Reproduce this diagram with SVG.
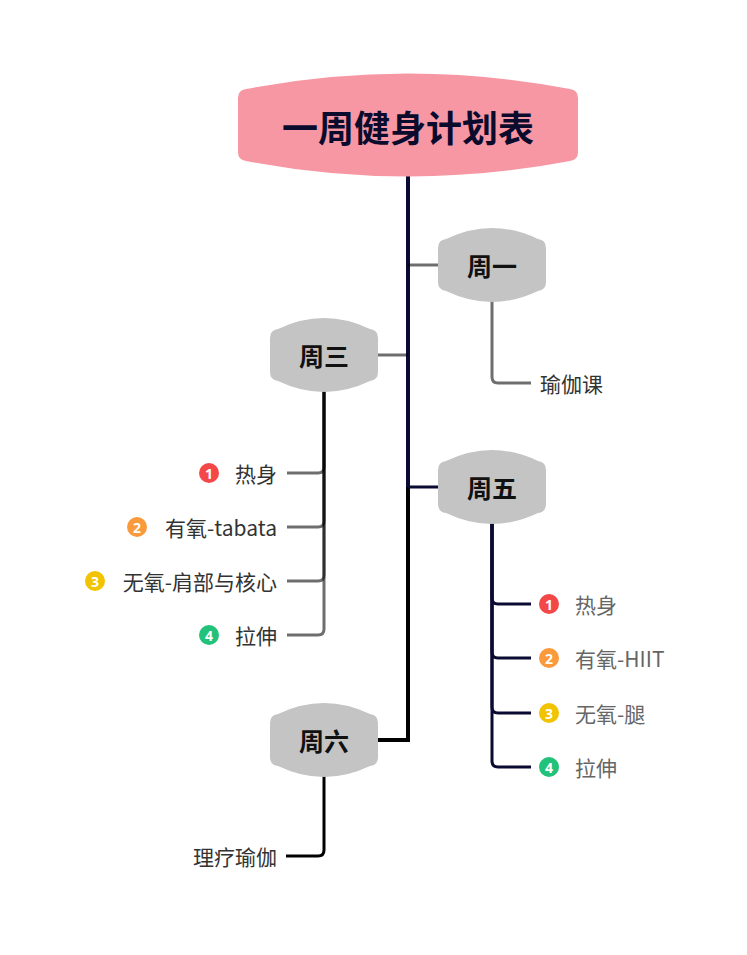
<svg xmlns="http://www.w3.org/2000/svg" width="747" height="955" viewBox="0 0 747 955">
<style>
.t{font-family:"Noto Sans CJK SC","Noto Sans",sans-serif;dominant-baseline:central}
.root{font-size:36px;font-weight:bold;fill:#0b0b2e;text-anchor:middle}
.day{font-size:25px;font-weight:bold;fill:#111;text-anchor:middle}
.lbl{font-size:21px;fill:#333}
.lbl2{font-size:21px;fill:#666}
.num{font-family:"Noto Sans","DejaVu Sans",sans-serif;font-size:14px;font-weight:bold;fill:#fff;text-anchor:middle;dominant-baseline:central}
.day-shape{fill:#c4c4c4}
.g{fill:none;stroke:#000;stroke-opacity:0.57;stroke-width:3}
.nv{fill:none;stroke:#0a0a33;stroke-width:3}
.bk{fill:none;stroke:#000;stroke-width:3}
</style>
<rect width="747" height="955" fill="#fff"/>
<g id="connectors">
  <path d="M408 176 V487" stroke="#0a0a33" stroke-width="4" fill="none"/>
  <path d="M408 487 V740 H378" stroke="#000" stroke-width="4" fill="none"/>
  <path class="g" d="M408 265 H438"/>
  <path class="g" d="M408 355 H378"/>
  <path class="nv" d="M408 487 H438"/>
  <path class="g" d="M492 301 V377 Q492 383 498 383 H531"/>
  <path class="g" d="M324 391 V467 Q324 473 318 473 H287"/>
  <path class="g" d="M324 391 V521 Q324 527 318 527 H287"/>
  <path class="g" d="M324 391 V575 Q324 581 318 581 H287"/>
  <path class="g" d="M324 391 V629 Q324 635 318 635 H287"/>
  <path class="nv" d="M492 523 V598 Q492 604 498 604 H531"/>
  <path class="nv" d="M492 523 V652 Q492 658 498 658 H531"/>
  <path class="nv" d="M492 523 V707 Q492 713 498 713 H531"/>
  <path class="nv" d="M492 523 V761 Q492 767 498 767 H531"/>
  <path class="bk" d="M324 776 V850 Q324 856 318 856 H286"/>
</g>
<g id="root">
  <path d="M238 98 Q238 90 246 89 Q408 58 570 89 Q578 90 578 98 V152 Q578 160 570 161 Q408 192 246 161 Q238 160 238 152 Z" fill="#f797a3"/>
  <text class="t root" x="408" y="126">一周健身计划表</text>
</g>
<g id="mon">
  <path d="M438 248 Q438 240 446 239 Q492 217 538 239 Q546 240 546 248 V282 Q546 290 538 291 Q492 313 446 291 Q438 290 438 282 Z" class="day-shape"/>
  <text class="t day" x="492" y="265">周一</text>
</g>
<g id="mon-1"><text class="t lbl" x="540" y="383">瑜伽课</text></g>
<g id="wed">
  <path d="M270 338 Q270 330 278 329 Q324 307 370 329 Q378 330 378 338 V372 Q378 380 370 381 Q324 403 278 381 Q270 380 270 372 Z" class="day-shape"/>
  <text class="t day" x="324" y="355">周三</text>
</g>
<g id="wed-1"><circle cx="209" cy="473" r="10" fill="#f44848"/><text class="num" x="209" y="473">1</text><text class="t lbl" x="277" y="473" text-anchor="end">热身</text></g>
<g id="wed-2"><circle cx="137" cy="527" r="10" fill="#fa9a3c"/><text class="num" x="137" y="527">2</text><text class="t lbl" x="277" y="527" text-anchor="end">有氧-tabata</text></g>
<g id="wed-3"><circle cx="95" cy="581" r="10" fill="#f2c300"/><text class="num" x="95" y="581">3</text><text class="t lbl" x="277" y="581" text-anchor="end">无氧-肩部与核心</text></g>
<g id="wed-4"><circle cx="209" cy="635" r="10" fill="#22c27a"/><text class="num" x="209" y="635">4</text><text class="t lbl" x="277" y="635" text-anchor="end">拉伸</text></g>
<g id="fri">
  <path d="M438 470 Q438 462 446 461 Q492 439 538 461 Q546 462 546 470 V504 Q546 512 538 513 Q492 535 446 513 Q438 512 438 504 Z" class="day-shape"/>
  <text class="t day" x="492" y="487">周五</text>
</g>
<g id="fri-1"><circle cx="549" cy="604" r="10" fill="#f44848"/><text class="num" x="549" y="604">1</text><text class="t lbl2" x="575" y="604">热身</text></g>
<g id="fri-2"><circle cx="549" cy="658" r="10" fill="#fa9a3c"/><text class="num" x="549" y="658">2</text><text class="t lbl2" x="575" y="658">有氧-HIIT</text></g>
<g id="fri-3"><circle cx="549" cy="713" r="10" fill="#f2c300"/><text class="num" x="549" y="713">3</text><text class="t lbl2" x="575" y="713">无氧-腿</text></g>
<g id="fri-4"><circle cx="549" cy="767" r="10" fill="#22c27a"/><text class="num" x="549" y="767">4</text><text class="t lbl2" x="575" y="767">拉伸</text></g>
<g id="sat">
  <path d="M270 723 Q270 715 278 714 Q324 692 370 714 Q378 715 378 723 V757 Q378 765 370 766 Q324 788 278 766 Q270 765 270 757 Z" class="day-shape"/>
  <text class="t day" x="324" y="740">周六</text>
</g>
<g id="sat-1"><text class="t lbl" x="277" y="856" text-anchor="end" fill="#222">理疗瑜伽</text></g>
</svg>
